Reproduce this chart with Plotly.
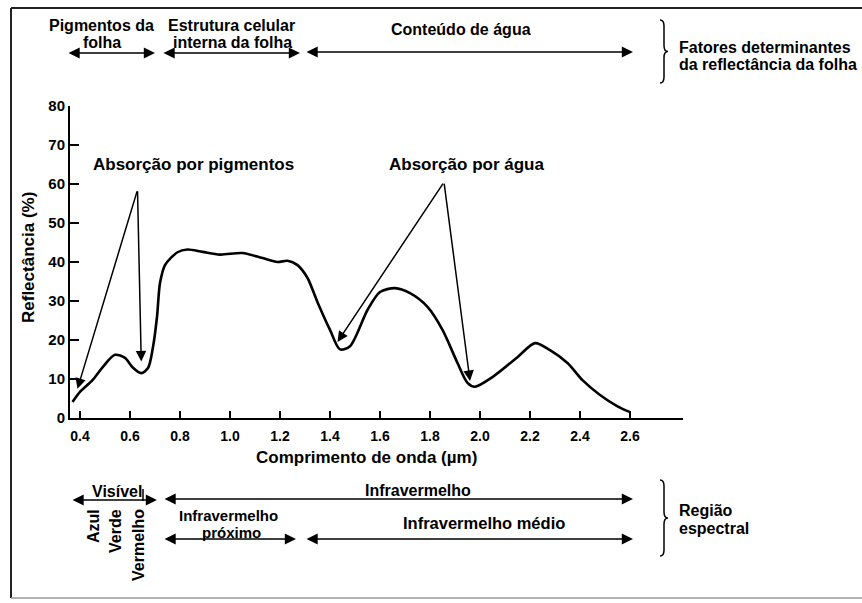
import plotly.graph_objects as go

W, H = 862, 603

# Curva de reflectância da folha
comprimento_onda = [0.37, 0.40, 0.45, 0.49, 0.54, 0.58, 0.61, 0.645, 0.672, 0.692, 0.708,
                    0.72, 0.74, 0.79, 0.83, 0.89, 0.96, 1.05, 1.13, 1.19, 1.23, 1.27,
                    1.31, 1.35, 1.40, 1.44, 1.48, 1.55, 1.60, 1.66, 1.72, 1.79, 1.85,
                    1.91, 1.95, 1.98, 2.05, 2.15, 2.22, 2.28, 2.35, 2.41, 2.48, 2.55, 2.60]
reflectancia = [4.1, 6.7, 9.7, 13.0, 16.2, 15.4, 13.0, 11.5, 12.8, 18.2, 25.9,
                34.6, 39.2, 42.5, 43.2, 42.6, 41.9, 42.3, 41.0, 40.0, 40.3, 39.2,
                35.9, 29.7, 22.6, 17.6, 18.4, 27.7, 32.3, 33.3, 32.0, 28.5, 22.6,
                14.1, 9.0, 8.0, 10.5, 15.6, 19.2, 17.4, 14.1, 9.7, 5.9, 3.0, 1.5]

x_ticks = [0.4, 0.6, 0.8, 1.0, 1.2, 1.4, 1.6, 1.8, 2.0, 2.2, 2.4, 2.6]
y_ticks = [0, 10, 20, 30, 40, 50, 60, 70, 80]

FONT = "Liberation Sans"


def p(x, y):
    """pixel -> paper"""
    return x / W, 1 - y / H


def texto(x, y, s, size=16, xanchor="center", angle=0, yanchor="middle"):
    px_, py_ = p(x, y)
    return dict(x=px_, y=py_, xref="paper", yref="paper", text="<b>%s</b>" % s,
                showarrow=False, xanchor=xanchor, yanchor=yanchor, textangle=angle,
                font=dict(family=FONT, size=size, color="black"))


def seta_dupla(x1, x2, y):
    px_, py_ = p(x2, y)
    return dict(x=px_, y=py_, xref="paper", yref="paper", text="", showarrow=True,
                ax=x1 - x2, ay=0, arrowside="end+start", arrowhead=2, arrowsize=1.4,
                arrowwidth=1.6, arrowcolor="black", standoff=0, startstandoff=0)


def seta(x0, y0, x1, y1):
    # seta em coordenadas de dados, da ponta (x0, y0) até o alvo (x1, y1)
    return dict(x=x1, y=y1, xref="x", yref="y", ax=x0, ay=y0, axref="x", ayref="y",
                text="", showarrow=True, arrowhead=2, arrowsize=1.4, arrowwidth=1.5,
                arrowcolor="black", standoff=0)


def chave(x, y0, y1, w=4):
    ym = (y0 + y1) / 2
    r = 6
    pts = [(x, y0), (x + w, y0 + r), (x + w, ym - r), (x + 2 * w, ym),
           (x + w, ym + r), (x + w, y1 - r), (x, y1)]
    q = [p(*t) for t in pts]
    path = "M %f,%f Q %f,%f %f,%f L %f,%f Q %f,%f %f,%f Q %f,%f %f,%f L %f,%f Q %f,%f %f,%f" % (
        q[0][0], q[0][1],
        q[1][0], q[0][1], q[1][0], q[1][1],
        q[2][0], q[2][1],
        q[2][0], q[3][1], q[3][0], q[3][1],
        q[4][0], q[3][1], q[4][0], q[4][1],
        q[5][0], q[5][1],
        q[5][0], q[6][1], q[6][0], q[6][1])
    return dict(type="path", xref="paper", yref="paper", path=path,
                line=dict(color="black", width=1.5))


fig = go.Figure()
fig.add_trace(go.Scatter(x=comprimento_onda, y=reflectancia, mode="lines",
                         line=dict(color="black", width=2.6, shape="spline", smoothing=0.8),
                         hoverinfo="skip"))

anns = []
# Fatores determinantes (topo)
anns += [texto(101, 25, "Pigmentos da"), texto(102, 42, "folha"),
         texto(231, 25, "Estrutura celular"), texto(232, 42, "interna da folha"),
         texto(461, 30, "Conteúdo de água"),
         texto(677, 48, "Fatores determinantes", xanchor="left"),
         texto(677, 65, "da reflectância da folha", xanchor="left")]
anns += [seta_dupla(67, 155, 53), seta_dupla(162, 300, 53), seta_dupla(305, 633, 52)]

# Absorção
anns += [texto(193, 165, "Absorção por pigmentos", size=17),
         texto(466, 165, "Absorção por água", size=17)]
anns += [seta(0.63, 58.5, 0.39, 7.5), seta(0.63, 58.5, 0.645, 14.5),
         seta(1.856, 60.5, 1.43, 19.5), seta(1.856, 60.5, 1.96, 9.5)]

# Eixos
anns += [texto(28, 258, "Reflectância (%)", size=17, angle=-90),
         texto(366, 457, "Comprimento de onda (µm)", size=17)]

# Região espectral (base)
anns += [texto(117, 491, "Visível"), texto(418, 490, "Infravermelho"),
         texto(228, 515, "Infravermelho", size=15), texto(231, 532, "próximo", size=15),
         texto(484, 523, "Infravermelho médio", size=16.5),
         texto(93, 507, "Azul", angle=-90, yanchor="top"),
         texto(115, 507, "Verde", angle=-90, yanchor="top"),
         texto(138, 507, "Vermelho", angle=-90, yanchor="top"),
         texto(677, 510, "Região", xanchor="left"),
         texto(677, 528, "espectral", xanchor="left")]
anns += [seta_dupla(71, 157, 500), seta_dupla(163, 633, 499),
         seta_dupla(163, 296, 539), seta_dupla(305, 633, 539)]

shapes = [chave(660, 20, 83), chave(660, 480, 556),
          # moldura
          dict(type="line", xref="paper", yref="paper", x0=p(11, 0)[0], x1=1,
               y0=p(0, 8)[1], y1=p(0, 8)[1], line=dict(color="#222", width=2)),
          dict(type="line", xref="paper", yref="paper", x0=p(11, 0)[0], x1=p(11, 0)[0],
               y0=p(0, 8)[1], y1=p(0, 598)[1], line=dict(color="#222", width=2)),
          dict(type="line", xref="paper", yref="paper", x0=p(11, 0)[0], x1=1,
               y0=p(0, 598)[1], y1=p(0, 598)[1], line=dict(color="#999", width=1.5)),
          # marca do fim do visível
          dict(type="line", xref="paper", yref="paper", x0=p(143, 0)[0], x1=p(143, 0)[0],
               y0=p(0, 489)[1], y1=p(0, 501)[1], line=dict(color="black", width=1.5))]

x_lo, x_hi = 0.36, 2.812
fig.update_layout(
    width=W, height=H, margin=dict(l=0, r=0, t=0, b=0, pad=0, autoexpand=False),
    paper_bgcolor="white", plot_bgcolor="white", showlegend=False,
    annotations=anns, shapes=shapes,
    xaxis=dict(domain=[70 / W, 683 / W], range=[x_lo, x_hi], tickvals=x_ticks,
               ticktext=["%.1f" % v for v in x_ticks], showgrid=False, zeroline=False,
               automargin=False,
               showline=True, linecolor="black", linewidth=2, ticks="inside",
               ticklen=7, tickwidth=1.5, tickcolor="black", ticklabelstandoff=4,
               tickfont=dict(family=FONT, size=14, color="black", weight="bold")),
    yaxis=dict(domain=[1 - 418 / H, 1 - 106 / H], range=[0, 80], tickvals=y_ticks,
               showgrid=False, zeroline=False, automargin=False,
               showline=True, linecolor="black",
               linewidth=2, ticks="inside", ticklen=9, tickwidth=1.5, tickcolor="black",
               tickfont=dict(family=FONT, size=15, color="black", weight="bold")),
)

# sem margem do body, para a figura ocupar a janela inteira
fig.write_html("out.html", config={"displayModeBar": False},
               post_script="document.body.style.margin='0';document.body.style.overflow='hidden';")
